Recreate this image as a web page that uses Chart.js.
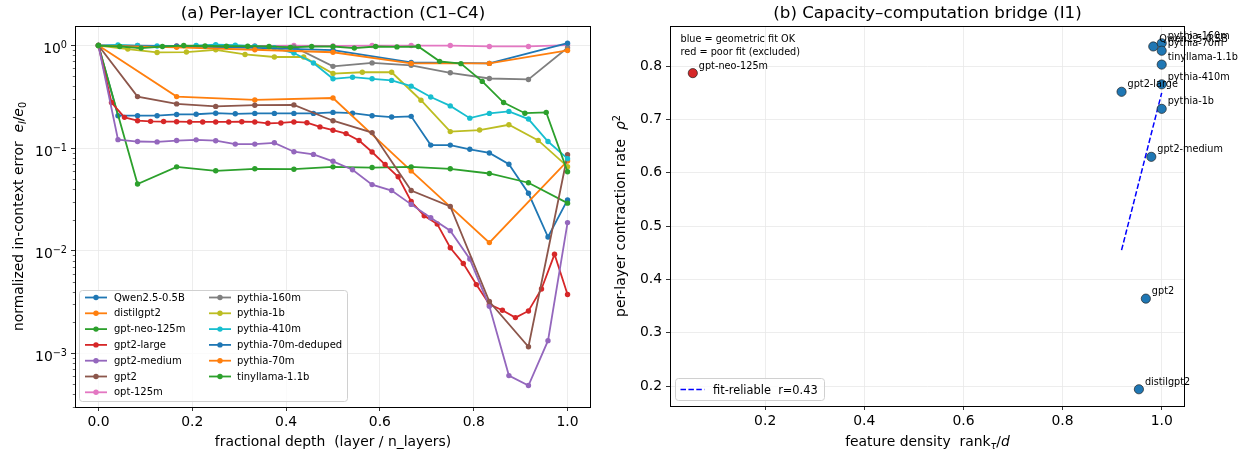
<!DOCTYPE html>
<html>
<head>
<meta charset="utf-8">
<script src="https://cdn.jsdelivr.net/npm/chart.js@4.4.1/dist/chart.umd.min.js"></script>
<style>
body{margin:0;background:#fff;}
#wrap{position:relative;width:1247px;height:457px;overflow:hidden;}
canvas{position:absolute;top:0;}
#c1{left:0;}
#c2{left:600px;}
</style>
</head>
<body>
<div id="wrap">
<canvas id="c1" width="600" height="457"></canvas>
<canvas id="c2" width="647" height="457"></canvas>
</div>
<script>
const FONT = "'DejaVu Sans', sans-serif";

// ---- panel (a) data: normalized error per layer, layer 0 .. n_layers
const models = ['Qwen2.5-0.5B','distilgpt2','gpt-neo-125m','gpt2-large','gpt2-medium','gpt2','opt-125m',
  'pythia-160m','pythia-1b','pythia-410m','pythia-70m-deduped','pythia-70m','tinyllama-1.1b'];
const colors = ['#1f77b4','#ff7f0e','#2ca02c','#d62728','#9467bd','#8c564b','#e377c2',
  '#7f7f7f','#bcbd22','#17becf','#1f77b4','#ff7f0e','#2ca02c'];

const qwen = [1, 0.207, 0.207, 0.207, 0.213, 0.214, 0.219, 0.216, 0.218, 0.218, 0.218, 0.218, 0.223,
  0.219, 0.207, 0.201, 0.204, 0.107, 0.107, 0.0974, 0.0898, 0.0697, 0.0363, 0.0136, 0.0313];
const distilgpt2 = [1, 0.318, 0.295, 0.308, 0.06, 0.012, 0.075];
const gptNeo = [1, 0.0447, 0.0657, 0.0601, 0.0629, 0.0623, 0.0657, 0.0647, 0.0657, 0.0629, 0.0566, 0.046, 0.0291];
const gpt2Large = [1, 0.278, 0.1995, 0.185, 0.1825, 0.1815, 0.181, 0.18, 0.18, 0.18, 0.18, 0.181, 0.18,
  0.1746, 0.176, 0.18, 0.177, 0.161, 0.1495, 0.1386, 0.1187, 0.0917, 0.0692, 0.0526, 0.0302, 0.0219,
  0.0182, 0.0107, 0.0075, 0.00468, 0.003, 0.00263, 0.00223, 0.00259, 0.00424, 0.00923, 0.00375];
const gpt2Medium = [1, 0.121, 0.116, 0.115, 0.1186, 0.1205, 0.1182, 0.1095, 0.1095, 0.1127, 0.0923, 0.0869,
  0.0744, 0.0615, 0.0441, 0.0386, 0.0283, 0.021, 0.0157, 0.0083, 0.00287, 0.000607, 0.000486, 0.00133, 0.0188];
const gpt2 = [1, 0.318, 0.27, 0.255, 0.262, 0.264, 0.185, 0.1417, 0.0386, 0.027, 0.0032, 0.00116, 0.0863];
const opt125 = [1, 1.0, 0.99, 1.0, 0.99, 1.0, 0.99, 1.0, 1.0, 1.0, 0.98, 0.98, 1.01];
const pythia160 = [1, 0.99, 0.99, 0.98, 0.98, 0.97, 0.627, 0.677, 0.642, 0.542, 0.477, 0.467, 0.95];
const pythia1b = [1, 0.923, 0.856, 0.864, 0.909, 0.819, 0.773, 0.773, 0.533, 0.549, 0.549, 0.293,
  0.145, 0.15, 0.169, 0.119, 0.066];
const pythia410 = [1, 1.015, 1.0, 0.99, 0.98, 1.0, 1.02, 1.01, 0.985, 0.95, 0.845, 0.676, 0.474, 0.491,
  0.474, 0.457, 0.402, 0.315, 0.258, 0.196, 0.218, 0.228, 0.192, 0.116, 0.079];
const pythia70dd = [1, 0.98, 0.95, 0.9, 0.685, 0.67, 1.055];
const pythia70 = [1, 0.96, 0.91, 0.86, 0.67, 0.67, 0.895];
const tinyllama = [1, 0.978, 0.944, 0.978, 1.0, 0.99, 0.985, 0.985, 0.98, 0.96, 0.978, 0.978, 0.944,
  0.978, 0.97, 0.978, 0.701, 0.666, 0.447, 0.278, 0.219, 0.223, 0.0588];
const curves = [qwen, distilgpt2, gptNeo, gpt2Large, gpt2Medium, gpt2, opt125,
  pythia160, pythia1b, pythia410, pythia70dd, pythia70, tinyllama];

const depthTicks = [0, 0.2, 0.4, 0.6, 0.8, 1.0];
const errTicks = [1e-3, 1e-2, 1e-1, 1];
const errTickExp = ['\u22123', '\u22122', '\u22121', '0'];

// ---- panel (b) data
const okNames = ['Qwen2.5-0.5B','pythia-160m','pythia-70m','tinyllama-1.1b',
  'pythia-410m','gpt2-large','pythia-1b','gpt2-medium','gpt2','distilgpt2'];
const okX = [0.983, 1.0, 1.0, 1.0, 1.0, 0.919, 1.0, 0.979, 0.968, 0.954];
const okY = [0.837, 0.843, 0.829, 0.803, 0.766, 0.752, 0.720, 0.630, 0.364, 0.194];
const poorNames = ['gpt-neo-125m'];
const poorX = [0.054];
const poorY = [0.787];
const fitX = [0.919, 1.0];
const fitY = [0.455, 0.75];
const fitLabel = 'fit-reliable  r=0.43';
const densTicks = [0.2, 0.4, 0.6, 0.8, 1.0];
const rateTicks = [0.2, 0.3, 0.4, 0.5, 0.6, 0.7, 0.8];

// text made of runs: [text, size, dy, style]
function drawRuns(ctx, parts, x, y, align, rot) {
  ctx.save();
  ctx.translate(x, y);
  if (rot) ctx.rotate(rot);
  ctx.textBaseline = 'alphabetic';
  ctx.textAlign = 'left';
  ctx.fillStyle = '#000';
  let total = 0;
  parts.forEach(p => {
    ctx.font = (p[3] || '') + ' ' + p[1] + 'px ' + FONT;
    p.w = ctx.measureText(p[0]).width;
    total += p.w;
  });
  let cx = align === 'center' ? -total / 2 : align === 'right' ? -total : 0;
  parts.forEach(p => {
    ctx.font = (p[3] || '') + ' ' + p[1] + 'px ' + FONT;
    ctx.fillText(p[0], cx, p[2]);
    cx += p.w;
  });
  ctx.restore();
}

function frame(chart) {
  const a = chart.chartArea, ctx = chart.ctx;
  ctx.save();
  ctx.strokeStyle = '#000';
  ctx.lineWidth = 1;
  ctx.strokeRect(Math.round(a.left) + 0.5, Math.round(a.top) + 0.5,
    Math.round(a.right - a.left) - 1, Math.round(a.bottom - a.top));
  ctx.restore();
}

function legendBox(ctx, x, y, w, h) {
  ctx.save();
  ctx.beginPath();
  ctx.roundRect(x, y, w, h, 3);
  ctx.fillStyle = 'rgba(255,255,255,0.8)';
  ctx.fill();
  ctx.strokeStyle = '#d0d0d0';
  ctx.lineWidth = 1;
  ctx.stroke();
  ctx.restore();
}

const panelA = {
  id: 'panelA',
  afterDraw(chart) {
    const ctx = chart.ctx, a = chart.chartArea, ys = chart.scales.y;
    frame(chart);
    // minor log ticks
    ctx.save();
    ctx.strokeStyle = '#000';
    ctx.lineWidth = 0.6;
    for (let e = -4; e <= 0; e++) {
      for (let m = 2; m <= 9; m++) {
        const v = m * Math.pow(10, e);
        if (v < ys.min || v > ys.max) continue;
        const py = Math.round(ys.getPixelForValue(v)) + 0.5;
        ctx.beginPath();
        ctx.moveTo(a.left, py);
        ctx.lineTo(a.left - 2.2, py);
        ctx.stroke();
      }
    }
    ctx.restore();
    // decade labels
    errTicks.forEach((v, i) => {
      const py = ys.getPixelForValue(v);
      const ex = errTickExp[i];
      drawRuns(ctx, [['10', 13.9, 0, ''], [ex, 9.7, -5, '']], a.left - 8, py + 7.6, 'right');
    });
    // titles
    drawRuns(ctx, [['(a) Per-layer ICL contraction (C1\u2013C4)', 16.7, 0, '']], (a.left + a.right) / 2, 18, 'center');
    drawRuns(ctx, [['fractional depth  (layer / n_layers)', 13.9, 0, '']], (a.left + a.right) / 2, 446, 'center');
    drawRuns(ctx, [['normalized in-context error  ', 13.9, 0, ''], ['e', 13.9, 0, 'italic'],
      ['l', 9.7, 2.8, 'italic'], ['/', 13.9, 0, ''], ['e', 13.9, 0, 'italic'], ['0', 9.7, 2.8, '']],
      23, (a.top + a.bottom) / 2, 'center', -Math.PI / 2);
    // legend, two columns
    legendBox(ctx, 79.5, 290.5, 268, 111);
    ctx.save();
    ctx.font = '10px ' + FONT;
    ctx.textBaseline = 'middle';
    models.forEach((m, i) => {
      const col = i < 7 ? 0 : 1, row = i < 7 ? i : i - 7;
      const hx = col ? 209 : 85, tx = col ? 237 : 114, y = 297.5 + row * 15.8;
      ctx.strokeStyle = colors[i];
      ctx.lineWidth = 1.8;
      ctx.beginPath(); ctx.moveTo(hx, y); ctx.lineTo(hx + 22, y); ctx.stroke();
      ctx.fillStyle = colors[i];
      ctx.beginPath(); ctx.arc(hx + 11, y, 2.7, 0, Math.PI * 2); ctx.fill();
      ctx.fillStyle = '#000';
      ctx.fillText(m, tx, y + 0.5);
    });
    ctx.restore();
  }
};

const panelB = {
  id: 'panelB',
  afterDraw(chart) {
    const ctx = chart.ctx, a = chart.chartArea;
    frame(chart);
    drawRuns(ctx, [['(b) Capacity\u2013computation bridge (I1)', 16.7, 0, '']], (a.left + a.right) / 2, 18, 'center');
    drawRuns(ctx, [['feature density  ', 13.9, 0, ''], ['rank', 13.9, 0, ''], ['\u03c4', 9.7, 2.8, 'italic'],
      ['/', 13.9, 0, ''], ['d', 13.9, 0, 'italic']], (a.left + a.right) / 2, 446, 'center');
    drawRuns(ctx, [['per-layer contraction rate  ', 13.9, 0, ''], ['\u03c1', 13.9, 0, 'italic'], ['2', 9.7, -5.5, '']],
      25, (a.top + a.bottom) / 2, 'center', -Math.PI / 2);
    // note
    drawRuns(ctx, [['blue = geometric fit OK', 9.7, 0, '']], 80.5, 42, 'left');
    drawRuns(ctx, [['red = poor fit (excluded)', 9.7, 0, '']], 80.5, 54.5, 'left');
    // point names
    [[1, okNames], [2, poorNames]].forEach(([di, names]) => {
      chart.getDatasetMeta(di).data.forEach((pt, i) => {
        drawRuns(ctx, [[names[i], 9.7, 0, '']], pt.x + 6, pt.y - 4.5, 'left');
      });
    });
    // legend
    legendBox(ctx, 75.5, 378.5, 149, 22);
    ctx.save();
    ctx.strokeStyle = '#0000ff';
    ctx.lineWidth = 1.5;
    ctx.setLineDash([5.5, 2.4]);
    ctx.beginPath(); ctx.moveTo(80.5, 389.5); ctx.lineTo(104.5, 389.5); ctx.stroke();
    ctx.restore();
    drawRuns(ctx, [[fitLabel, 11.4, 0, '']], 113, 393.5, 'left');
  }
};

const gridOpts = { color: '#e8e8e8', lineWidth: 0.8, tickColor: '#000', tickLength: 4, tickWidth: 0.8 };

const ds1 = models.map((m, i) => ({
  label: m,
  data: curves[i].map((v, k, arr) => ({ x: k / (arr.length - 1), y: v })),
  borderColor: colors[i],
  backgroundColor: colors[i],
  borderWidth: 1.8,
  pointRadius: 2.7,
  pointBorderWidth: 0,
  pointHoverRadius: 2.7,
  tension: 0,
  order: models.length - i
}));

new Chart(document.getElementById('c1'), {
  type: 'line',
  data: { datasets: ds1 },
  options: {
    responsive: false, animation: false, devicePixelRatio: 1,
    layout: { padding: { top: 26, right: 9, left: 0, bottom: 0 } },
    plugins: { legend: { display: false }, tooltip: { enabled: false } },
    scales: {
      x: {
        type: 'linear', min: -0.05, max: 1.05,
        afterBuildTicks: s => { s.ticks = depthTicks.map(v => ({ value: v })); },
        afterFit: s => { s.height = 50; },
        grid: gridOpts, border: { display: false },
        ticks: { color: '#000', font: { family: FONT, size: 13.9 }, padding: 3, maxRotation: 0,
          callback: v => v.toFixed(1) }
      },
      y: {
        type: 'logarithmic', min: 3.31e-4, max: 1.55,
        afterBuildTicks: s => { s.ticks = errTicks.map(v => ({ value: v })); },
        afterFit: s => { s.width = 75; },
        grid: gridOpts, border: { display: false },
        ticks: { display: false }
      }
    }
  },
  plugins: [panelA]
});

new Chart(document.getElementById('c2'), {
  type: 'scatter',
  data: {
    datasets: [
      { label: fitLabel, type: 'line', data: fitX.map((x, i) => ({ x: x, y: fitY[i] })),
        borderColor: '#0000ff', borderDash: [5.5, 2.4], borderWidth: 1.5, pointRadius: 0, fill: false, order: 3 },
      { label: 'fit OK', data: okX.map((x, i) => ({ x: x, y: okY[i] })),
        backgroundColor: '#1f77b4', borderColor: '#222', borderWidth: 0.7, pointRadius: 4.6, order: 2 },
      { label: 'poor fit', data: poorX.map((x, i) => ({ x: x, y: poorY[i] })),
        backgroundColor: '#d62728', borderColor: '#222', borderWidth: 0.7, pointRadius: 4.6, order: 1 }
    ]
  },
  options: {
    responsive: false, animation: false, devicePixelRatio: 1,
    layout: { padding: { top: 26, right: 62, left: 0, bottom: 0 } },
    plugins: { legend: { display: false }, tooltip: { enabled: false } },
    scales: {
      x: {
        type: 'linear', min: 0.008, max: 1.047,
        afterBuildTicks: s => { s.ticks = densTicks.map(v => ({ value: v })); },
        afterFit: s => { s.height = 51; },
        grid: gridOpts, border: { display: false },
        ticks: { color: '#000', font: { family: FONT, size: 13.9 }, padding: 3, maxRotation: 0,
          callback: v => v.toFixed(1) }
      },
      y: {
        type: 'linear', min: 0.1626, max: 0.8754,
        afterBuildTicks: s => { s.ticks = rateTicks.map(v => ({ value: v })); },
        afterFit: s => { s.width = 70; },
        grid: gridOpts, border: { display: false },
        ticks: { color: '#000', font: { family: FONT, size: 13.9 }, padding: 4,
          callback: v => v.toFixed(1) }
      }
    }
  },
  plugins: [panelB]
});
</script>
</body>
</html>
